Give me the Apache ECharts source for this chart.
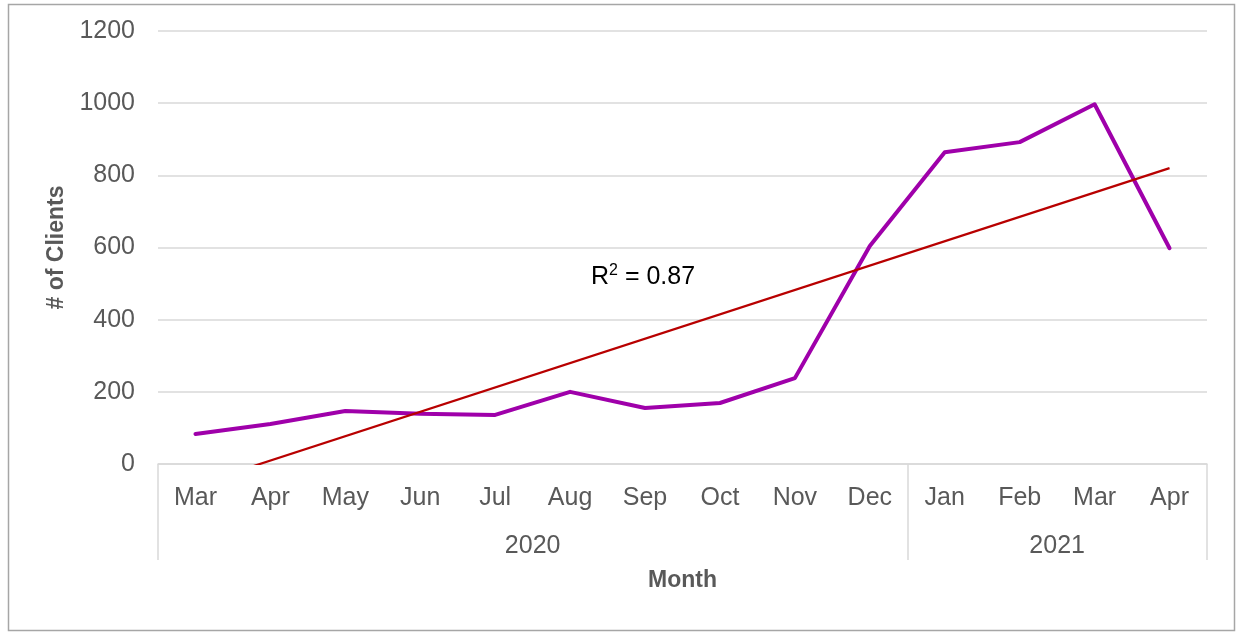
<!DOCTYPE html>
<html>
<head>
<meta charset="utf-8">
<title># of Clients by Month</title>
<script src="https://cdn.jsdelivr.net/npm/echarts@6/dist/echarts.min.js"></script>
<style>
  html, body { margin: 0; padding: 0; background: #ffffff; }
  #chart { width: 1238px; height: 634px; }
</style>
</head>
<body>
<div id="chart"></div>
<script>
// Monthly client counts, Mar 2020 – Apr 2021
const months = ['Mar', 'Apr', 'May', 'Jun', 'Jul', 'Aug', 'Sep', 'Oct', 'Nov', 'Dec', 'Jan', 'Feb', 'Mar', 'Apr'];
const clients = [83, 111, 147, 139, 136, 200, 155, 169, 238, 604, 864, 892, 997, 598];

// Year groups under the month labels (label, number of months)
const years = ['2020', '2021'];
const yearMonthCounts = [10, 4];

// Linear trendline end values (first and last month) and its fit
const trendStart = -58;
const trendEnd = 820;
const rSquared = '0.87';

// Y-axis ticks
const yTicks = [0, 200, 400, 600, 800, 1000, 1200];

const trendData = months.map((m, i) => (i === 0 ? trendStart : i === months.length - 1 ? trendEnd : null));

// Boundaries and centres of the year groups, in month-slot units
const yearBounds = [0];
yearMonthCounts.forEach(c => yearBounds.push(yearBounds[yearBounds.length - 1] + c));
const yearCenters = years.map((y, i) => (yearBounds[i] + yearBounds[i + 1]) / 2);

const FONT = '"Liberation Sans", Arial, sans-serif';
const GRAY = '#595959';
const LINE_GRAY = '#D9D9D9';

const chart = echarts.init(document.getElementById('chart'), null, { renderer: 'canvas' });

chart.setOption({
  backgroundColor: '#ffffff',
  animation: false,
  grid: { left: 158, right: 31, top: 31, bottom: 170 },
  xAxis: [
    {
      type: 'category',
      data: months,
      boundaryGap: true,
      axisLine: { show: true, lineStyle: { color: LINE_GRAY, width: 1.5 } },
      axisTick: { show: false },
      axisLabel: { color: GRAY, fontSize: 25, fontFamily: FONT, margin: 22, interval: 0 },
      splitLine: { show: false }
    },
    {
      type: 'value',
      position: 'bottom',
      min: 0,
      max: months.length,
      axisLine: { show: false },
      axisTick: {
        show: true,
        customValues: yearBounds,
        length: 96,
        lineStyle: { color: LINE_GRAY, width: 1.5 }
      },
      axisLabel: {
        show: true,
        customValues: yearCenters,
        formatter: v => years[yearCenters.indexOf(v)] || '',
        color: GRAY,
        fontSize: 25,
        fontFamily: FONT,
        margin: 70
      },
      splitLine: { show: false },
      name: 'Month',
      nameLocation: 'middle',
      nameGap: 105,
      nameTextStyle: { color: GRAY, fontSize: 23, fontWeight: 'bold', fontFamily: FONT }
    }
  ],
  yAxis: {
    type: 'value',
    min: yTicks[0],
    max: yTicks[yTicks.length - 1],
    interval: yTicks[1] - yTicks[0],
    axisLine: { show: false },
    axisTick: { show: false },
    axisLabel: { color: GRAY, fontSize: 25, fontFamily: FONT, margin: 23, formatter: v => String(v) },
    splitLine: { show: true, lineStyle: { color: LINE_GRAY, width: 1.5 } },
    name: '# of Clients',
    nameLocation: 'middle',
    nameRotate: 90,
    nameGap: 88,
    nameTextStyle: { color: GRAY, fontSize: 23, fontWeight: 'bold', fontFamily: FONT }
  },
  series: [
    {
      name: 'Clients',
      type: 'line',
      xAxisIndex: 0,
      data: clients,
      symbol: 'none',
      lineStyle: { color: '#9F00AA', width: 4, join: 'round', cap: 'round' },
      z: 3
    },
    {
      name: 'Linear trend',
      type: 'line',
      xAxisIndex: 0,
      data: trendData,
      connectNulls: true,
      symbol: 'none',
      clip: true,
      lineStyle: { color: '#B80000', width: 2.2 },
      z: 4
    }
  ],
  graphic: [
    {
      type: 'rect',
      left: 6,
      top: 2,
      shape: { width: 1226, height: 626 },
      style: { fill: 'none', stroke: '#A6A6A6', lineWidth: 1.5 },
      silent: true
    },
    {
      type: 'text',
      left: 591,
      top: 263,
      style: {
        text: 'R{sup|2} = ' + rSquared,
        fill: '#000000',
        fontSize: 25,
        fontFamily: FONT,
        rich: {
          sup: { fontSize: 16, fontFamily: FONT, fill: '#000000', padding: [0, 0, 12, 0] }
        }
      },
      silent: true
    }
  ]
});
</script>
</body>
</html>
